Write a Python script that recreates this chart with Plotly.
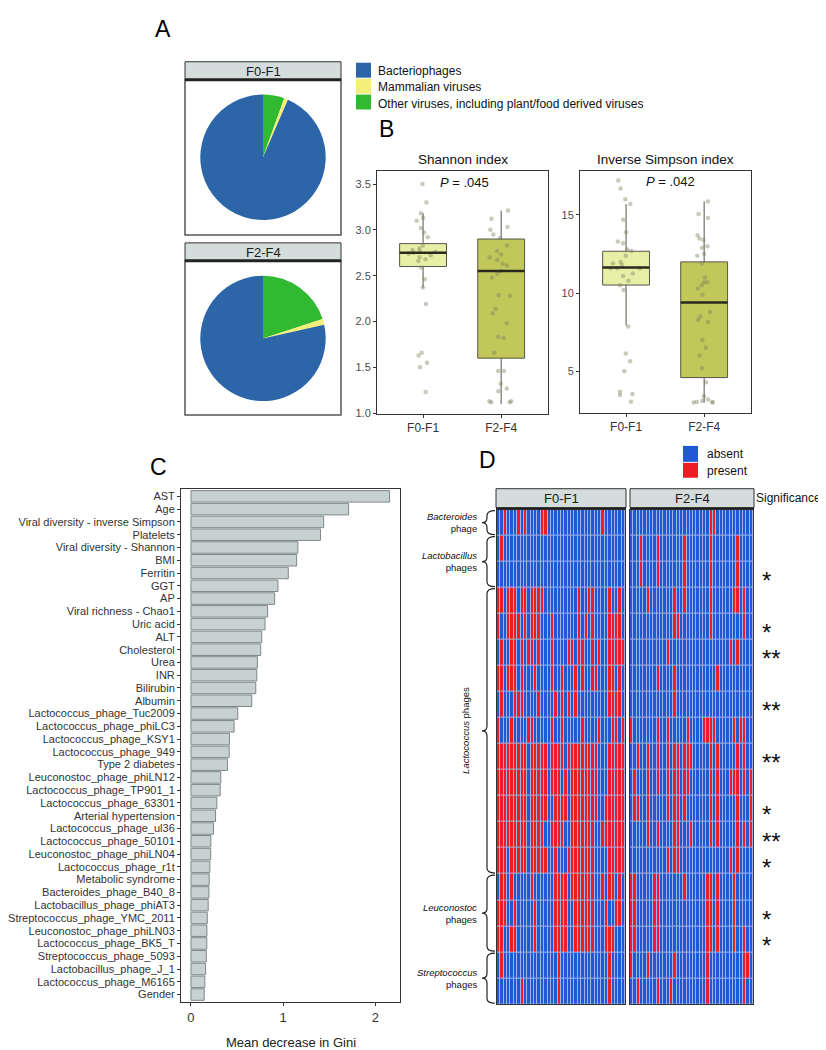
import plotly.graph_objects as go

W, H = 826, 1050
def X(px): return px / W
def Y(py): return 1 - py / H

FONT = "Liberation Sans, Arial, sans-serif"

# ---------------- Panel A data ----------------
pie_labels = ["Other viruses, including plant/food derived viruses", "Mammalian viruses", "Bacteriophages"]
pie_f01 = [5.5, 1.0, 93.5]
pie_f24 = [20.0, 1.5, 78.5]
pie_colors = ["#31b931", "#f4ef78", "#2c65a8"]
legend_order = ["Bacteriophages", "Mammalian viruses", "Other viruses, including plant/food derived viruses"]
legend_colors = ["#2c65a8", "#f4ef78", "#31b931"]

# ---------------- Panel B data ----------------
groups = ["F0-F1", "F2-F4"]
shannon_f01 = [3.5, 3.30, 3.18, 3.13, 3.10, 3.02, 2.97, 2.92, 2.83, 2.80, 2.78, 2.77, 2.76, 2.75,
               2.74, 2.72, 2.70, 2.68, 2.66, 2.59, 2.46, 2.37, 2.19, 1.66, 1.63, 1.55, 1.50, 1.23]
shannon_f24 = [3.21, 3.12, 3.03, 3.00, 2.95, 2.91, 2.83, 2.77, 2.73, 2.70, 2.67, 2.63, 2.61, 2.55,
               2.52, 2.48, 2.29, 2.28, 2.14, 2.09, 1.98, 1.83, 1.82, 1.66, 1.46, 1.46, 1.32, 1.27,
               1.24, 1.13, 1.13, 1.12, 1.12]
shannon_q1 = [2.60, 1.60]
shannon_med = [2.75, 2.55]
shannon_q3 = [2.85, 2.90]
shannon_lo = [2.37, 1.10]
shannon_hi = [3.18, 3.21]

invs_f01 = [17.2, 16.7, 16.0, 15.7, 14.7, 13.9, 13.2, 13.3, 12.8, 12.7, 12.4, 12.0, 11.9, 11.6, 11.6,
            11.6, 11.8, 11.25, 11.1, 10.8, 10.5, 10.2, 7.87, 6.14, 5.65, 5.0, 3.69, 3.55, 3.48, 3.05]
invs_f24 = [15.87, 15.06, 14.8, 13.7, 13.5, 13.4, 13.0, 12.9, 12.5, 12.4, 11.9, 11.0, 10.7, 10.7, 10.5,
            10.3, 9.9, 8.8, 8.5, 8.3, 8.15, 7.0, 6.5, 6.0, 5.2, 4.3, 3.4, 3.2, 3.1, 3.03, 3.03, 3.0, 3.0]
invs_q1 = [10.52, 4.60]
invs_med = [11.64, 9.40]
invs_q3 = [12.68, 12.00]
invs_lo = [7.92, 3.00]
invs_hi = [15.70, 15.87]

# ---------------- Panel C data ----------------
gini_labels = ["AST", "Age", "Viral diversity - inverse Simpson", "Platelets", "Viral diversity - Shannon",
               "BMI", "Ferritin", "GGT", "AP", "Viral richness - Chao1", "Uric acid", "ALT", "Cholesterol",
               "Urea", "INR", "Bilirubin", "Albumin", "Lactococcus_phage_Tuc2009", "Lactococcus_phage_phiLC3",
               "Lactococcus_phage_KSY1", "Lactococcus_phage_949", "Type 2 diabetes", "Leuconostoc_phage_phiLN12",
               "Lactococcus_phage_TP901_1", "Lactococcus_phage_63301", "Arterial hypertension",
               "Lactococcus_phage_ul36", "Lactococcus_phage_50101", "Leuconostoc_phage_phiLN04",
               "Lactococcus_phage_r1t", "Metabolic syndrome", "Bacteroides_phage_B40_8",
               "Lactobacillus_phage_phiAT3", "Streptococcus_phage_YMC_2011", "Leuconostoc_phage_phiLN03",
               "Lactococcus_phage_BK5_T", "Streptococcus_phage_5093", "Lactobacillus_phage_J_1",
               "Lactococcus_phage_M6165", "Gender"]
gini_values = [2.155, 1.71, 1.44, 1.405, 1.16, 1.146, 1.056, 0.944, 0.908, 0.832, 0.804, 0.768, 0.757,
               0.721, 0.714, 0.703, 0.66, 0.508, 0.468, 0.418, 0.415, 0.396, 0.324, 0.317, 0.281, 0.267,
               0.245, 0.216, 0.214, 0.205, 0.198, 0.195, 0.187, 0.177, 0.173, 0.172, 0.166, 0.159, 0.151,
               0.144]
gini_ticks = [0, 1, 2]

# ---------------- Panel D data ----------------
n_f01, n_f24 = 38, 37
present_f01 = ["2,6,8,13-14,31", "1", "",
               "0-1,3-5,7-8,10-13,24,27-28,33,36", "0,3-6,8,10-12,16,24,26,28,33-36",
               "1,4-5,7,9-10,12,16,21-22,24-25,28,30,33-37", "0-1,3-5,7,11,16,19,23,25,28-29,33-34,36",
               "1,5-7,12,17,19,21,23,33-36", "0,4,9-10,16,19,25,30,34-35,37",
               "0-8,10-14,16-19,21-29,33-37", "0-8,10-14,16-18,20,22-29,33-37",
               "0-8,10-14,17-20,22-29,32-37", "0-8,10-13,16-19,22-28,31-37",
               "0-2,4-8,10-14,17,21-28,33-37",
               "1-2,4,10,17-20,22-28,31,33-34,36", "0-2,5,11,17-20,23-28,32,35-36",
               "0-1,4-5,11,17-20,23-28,32-34",
               "1,18,33", "7,18,33"]
present_f24 = ["24-25", "3,8,16,24,32", "3,8,16,24,32",
               "5,13,16,24,31-32,34", "13-14,24,34", "11,30,32", "8,13,26", "13",
               "0,8,11,17,22-25,31,33-34", "2,5,8,11,13-14,16-18,24,26,32,34",
               "1,5,8,11,13-14,16-17,24,26,30-32,34,36", "1-2,5,11,13-14,16,24,26,32,36",
               "5,8,13-14,18,24,26,32,34,36", "11,13-14,30,32",
               "0-1,7-8,16,23-24,26,31", "0-1,7-8,23-24,26,31", "0-1,7-8,23-24,26,31,34",
               "0,5,13,23,34-35", "2,8,12,23,34"]
significance = ["", "", "*", "", "*", "**", "", "**", "", "**", "", "*", "**", "*", "", "*", "*", "", ""]
phage_groups = [("<i>Bacteroides</i><br>phage", 0, 1), ("<i>Lactobacillus</i><br>phages", 1, 3),
                ("<i>Lactococcus</i> phages", 3, 14), ("<i>Leuconostoc</i><br>phages", 14, 17),
                ("<i>Streptococcus</i><br>phages", 17, 19)]


def parse(s, n):
    on = set()
    for part in s.split(","):
        if not part:
            continue
        if "-" in part:
            a, b = part.split("-")
            on.update(range(int(a), int(b) + 1))
        else:
            on.add(int(part))
    return [1 if c in on else 0 for c in range(n)]


z_f01 = [parse(s, n_f01) for s in present_f01]
z_f24 = [parse(s, n_f24) for s in present_f24]

fig = go.Figure()
shapes, annos = [], []

def rect(x0, y0, x1, y1, fill="rgba(0,0,0,0)", line="#333", lw=1, layer="above"):
    shapes.append(dict(type="rect", xref="paper", yref="paper", x0=X(x0), x1=X(x1), y0=Y(y1), y1=Y(y0),
                       fillcolor=fill, line=dict(color=line, width=lw), layer=layer))

def text(x, y, s, size=12, color="#000", xanchor="center", yanchor="middle", angle=0, align="center"):
    annos.append(dict(x=X(x), y=Y(y), xref="paper", yref="paper", text=s, showarrow=False,
                      font=dict(size=size, color=color, family=FONT), xanchor=xanchor, yanchor=yanchor,
                      textangle=angle, align=align))

# ---------------- Panel A ----------------
for vals, (px0, py0, px1, py1) in [(pie_f01, (192, 87, 318, 213)), (pie_f24, (192, 269, 318, 395))]:
    fig.add_trace(go.Pie(labels=pie_labels, values=vals, sort=False, direction="clockwise", rotation=0,
                         marker=dict(colors=pie_colors, line=dict(width=0)), textinfo="none",
                         hoverinfo="skip", showlegend=False,
                         domain=dict(x=[X(px0), X(px1)], y=[Y(py1), Y(py0)])))
for lab, (sy0, sy1, py1) in [("F0-F1", (54, 72, 228)), ("F2-F4", (236, 254, 409))]:
    rect(177, sy0, 333, sy1, fill="#d4dcdc", line="#333", lw=1)
    rect(177, sy1, 333, py1, line="#555", lw=1.5)
    shapes.append(dict(type="line", xref="paper", yref="paper", x0=X(177), x1=X(333), y0=Y(sy1), y1=Y(sy1),
                       line=dict(color="#222", width=3)))
    text(255, (sy0 + sy1) / 2 + 0.5, lab, size=13, color="#1a1a1a")

for i, (lab, col) in enumerate(zip(legend_order, legend_colors)):
    rect(348, 55 + 16 * i, 363, 70 + 16 * i, fill=col, line=col, lw=0)
    text(368, 63 + 16.5 * i, lab, size=12, color="#111", xanchor="left")

text(155, 21, "A", size=23)
text(378, 122, "B", size=23)
text(150, 461, "C", size=23)
text(480, 454, "D", size=23)

# ---------------- Panel B ----------------
box_w = 0.6
fills = ["#e7efa6", "#c2c75a"]
def add_boxes(xa, ya, q1, med, q3, lo, hi, pts):
    for i in range(2):
        fig.add_trace(go.Box(x=[i], q1=[q1[i]], median=[med[i]], q3=[q3[i]], lowerfence=[lo[i]],
                             upperfence=[hi[i]], width=box_w, whiskerwidth=0, fillcolor=fills[i],
                             line=dict(color="#55554a", width=1), boxpoints=False, showlegend=False,
                             hoverinfo="skip", xaxis=xa, yaxis=ya))
        fig.add_trace(go.Scatter(x=[i - box_w / 2, i + box_w / 2], y=[med[i], med[i]], mode="lines",
                                 line=dict(color="#2a2a1c", width=2.5), showlegend=False, hoverinfo="skip",
                                 xaxis=xa, yaxis=ya))
        fig.add_trace(go.Box(x=[i] * len(pts[i]), y=pts[i], width=box_w, boxpoints="all", jitter=0.7,
                             pointpos=0, fillcolor="rgba(0,0,0,0)", line=dict(color="rgba(0,0,0,0)", width=0),
                             marker=dict(size=4.5, color="rgba(125,128,95,0.42)"), showlegend=False,
                             hoverinfo="skip", xaxis=xa, yaxis=ya))

add_boxes("x", "y", shannon_q1, shannon_med, shannon_q3, shannon_lo, shannon_hi, [shannon_f01, shannon_f24])
add_boxes("x2", "y2", invs_q1, invs_med, invs_q3, invs_lo, invs_hi, [invs_f01, invs_f24])

text(455, 152, "Shannon index", size=13.5, color="#111")
text(657, 152, "Inverse Simpson index", size=13.5, color="#111")
text(456, 175, "<i>P</i> = .045", size=13, color="#111")
text(662, 174, "<i>P</i> = .042", size=13, color="#111")

# ---------------- Panel C ----------------
fig.add_trace(go.Bar(x=gini_values, y=gini_labels, orientation="h", width=0.9,
                     marker=dict(color="#c7d1d1", line=dict(color="#7e8888", width=1)),
                     showlegend=False, hoverinfo="skip", xaxis="x3", yaxis="y3"))
text(283, 1039, "Mean decrease in Gini", size=13, color="#222")

# ---------------- Panel D ----------------
hm_scale = [[0, "#2158d6"], [0.5, "#2158d6"], [0.5, "#ee1c25"], [1, "#ee1c25"]]
for z, xa, ya, (hx0, hx1) in [(z_f01, "x4", "y4", (489, 617)), (z_f24, "x5", "y5", (622, 745))]:
    rect(hx0, 504, hx1, 1001, fill="#9fb3e6", line="#9fb3e6", lw=0, layer="below")
    fig.add_trace(go.Heatmap(z=z, colorscale=hm_scale, zmin=0, zmax=1, xgap=1, ygap=1, showscale=False,
                             hoverinfo="skip", xaxis=xa, yaxis=ya))
for lab, (sx0, sx1) in [("F0-F1", (488, 618)), ("F2-F4", (622, 746))]:
    rect(sx0, 483, sx1, 502, fill="#d4dcdc", line="#333", lw=1)
    text((sx0 + sx1) / 2, 492.5, lab, size=13, color="#1a1a1a")
    shapes.append(dict(type="line", xref="paper", yref="paper", x0=X(sx0), x1=X(sx1), y0=Y(503), y1=Y(503),
                       line=dict(color="#222", width=2)))
text(746, 492.5, "Significance", size=12, color="#111", xanchor="left")

rect(675, 440, 690, 456, fill="#2158d6", line="#2158d6", lw=0)
rect(675, 457, 690, 472, fill="#ee1c25", line="#ee1c25", lw=0)
text(697, 448, "absent", size=12, color="#111", xanchor="left")
text(697, 465, "present", size=12, color="#111", xanchor="left")

row_h = (1001 - 504) / 19
for i, s in enumerate(significance):
    if s:
        annos.append(dict(x=X(752), y=i, xref="paper", yref="y5", text=s, showarrow=False, yshift=-6,
                          font=dict(size=24, color="#111", family=FONT), xanchor="left", yanchor="middle"))

def brace_path(y0, y1, xr=487, xl=479, tip=474):
    d = min(5, (y1 - y0) / 4)
    ym = (y0 + y1) / 2
    pts = [("M", xr, y0), ("Q", xl, y0, xl, y0 + d), ("L", xl, ym - d), ("Q", xl, ym, tip, ym),
           ("Q", xl, ym, xl, ym + d), ("L", xl, y1 - d), ("Q", xl, y1, xr, y1)]
    out = []
    for p in pts:
        cmd = p[0]
        coords = p[1:]
        segs = []
        for k in range(0, len(coords), 2):
            segs.append(f"{X(coords[k]):.5f},{Y(coords[k + 1]):.5f}")
        out.append(cmd + " " + " ".join(segs))
    return " ".join(out)

for lab, r0, r1 in phage_groups:
    y0 = 504 + r0 * row_h + 1
    y1 = 504 + r1 * row_h - 1
    shapes.append(dict(type="path", xref="paper", yref="paper", path=brace_path(y0, y1),
                       line=dict(color="#222", width=1.2)))
    if r1 - r0 > 5:
        text(458, (y0 + y1) / 2, lab, size=9.5, color="#111", angle=-90)
    else:
        text(471, (y0 + y1) / 2, lab, size=9.5, color="#111", xanchor="right", align="right")

# ---------------- Axes ----------------
def frame(**kw):
    base = dict(showline=True, mirror=True, linecolor="#333", linewidth=1, showgrid=False, zeroline=False,
                ticks="outside", ticklen=3, tickcolor="#333", tickfont=dict(size=11, color="#4d4d4d", family=FONT))
    base.update(kw)
    return base

fig.update_layout(
    width=W, height=H, margin=dict(l=0, r=0, t=0, b=0), paper_bgcolor="white", plot_bgcolor="rgba(0,0,0,0)",
    font=dict(family=FONT), boxmode="overlay", showlegend=False,
    xaxis=frame(domain=[X(369), X(540)], range=[-0.59, 1.6], tickvals=[0, 1], ticktext=groups,
                tickfont=dict(size=12, color="#333", family=FONT), anchor="y"),
    yaxis=frame(domain=[Y(408), Y(164)], range=[0.99, 3.64], tickvals=[1, 1.5, 2, 2.5, 3, 3.5],
                ticktext=["1.0", "1.5", "2.0", "2.5", "3.0", "3.5"], anchor="x"),
    xaxis2=frame(domain=[X(572), X(743)], range=[-0.59, 1.6], tickvals=[0, 1], ticktext=groups,
                 tickfont=dict(size=12, color="#333", family=FONT), anchor="y2"),
    yaxis2=frame(domain=[Y(407), Y(164)], range=[2.33, 17.8], tickvals=[5, 10, 15], anchor="x2"),
    xaxis3=frame(domain=[X(173), X(392)], range=[-0.108, 2.268], tickvals=gini_ticks,
                 tickfont=dict(size=13, color="#333", family=FONT), anchor="y3"),
    yaxis3=frame(domain=[Y(999), Y(483)], range=[39.6, -0.6], type="category",
                 tickmode="array", tickvals=gini_labels, ticktext=gini_labels,
                 tickfont=dict(size=11, color="#333", family=FONT), anchor="x3"),
    xaxis4=dict(domain=[X(489), X(617)], range=[-0.5, n_f01 - 0.5], showline=True, mirror=True,
                linecolor="#333", showticklabels=False, ticks="", showgrid=False, zeroline=False, anchor="y4"),
    yaxis4=dict(domain=[Y(1001), Y(504)], range=[18.5, -0.5], showline=True, mirror=True, linecolor="#333",
                showticklabels=False, ticks="", showgrid=False, zeroline=False, anchor="x4"),
    xaxis5=dict(domain=[X(622), X(745)], range=[-0.5, n_f24 - 0.5], showline=True, mirror=True,
                linecolor="#333", showticklabels=False, ticks="", showgrid=False, zeroline=False, anchor="y5"),
    yaxis5=dict(domain=[Y(1001), Y(504)], range=[18.5, -0.5], showline=True, mirror=True, linecolor="#333",
                showticklabels=False, ticks="", showgrid=False, zeroline=False, anchor="x5"),
    shapes=shapes, annotations=annos,
)

fig.write_html("out.html")
